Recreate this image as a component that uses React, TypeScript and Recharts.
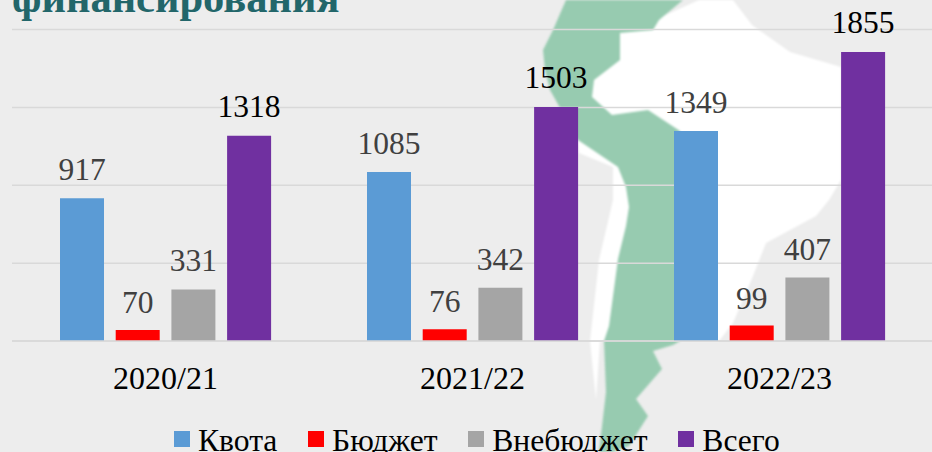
import { BarChart, Bar, XAxis, YAxis, CartesianGrid, Legend, LabelList } from "recharts";

const years = ["2020/21", "2021/22", "2022/23"];
const quota = [917, 1085, 1349];
const budget = [70, 76, 99];
const offBudget = [331, 342, 407];
const total = [1318, 1503, 1855];
const yTicks = [0, 500, 1000, 1500, 2000];

const data = years.map((year, i) => ({
  year,
  "Квота": quota[i],
  "Бюджет": budget[i],
  "Внебюджет": offBudget[i],
  "Всего": total[i],
}));

const FONT = "'Liberation Serif', serif";

// background map, sketched by hand
const whiteLand =
  "M619,33 L650,22 L699,0 L733,0 L752,25 L790,52 L841,67 L841,180 L829,200 L816,216 L766,243 L753,276 L733,323 L719,341 L600,341 L596,400 L590,341 L599,260 L613,200 L613,167 L579,153 L575,110 Z";
const greenLand =
  "M566,0 L683,0 L659,20 L653,30 L620,33 L620,60 L594,80 L592,97 L612,115 L648,110 L680,131 L680,341 L673,345 L653,351 L662,369 L636,399 L648,416 L629,446 L612,452 L599,452 L606,392 L604,341 L609,326 L618,259 L626,226 L629,207 L626,187 L618,167 L578,140 L550,90 L545,70 L543,50 L553,30 Z";

function renderLegend(props: any) {
  return (
    <div style={{ display: "flex", fontFamily: FONT, fontSize: 31.6, color: "#000", lineHeight: "34px" }}>
      {props.payload.map((item: any) => (
        <div key={item.value} style={{ display: "flex", alignItems: "center", marginRight: 30.7 }}>
          <span style={{ width: 16, height: 16, background: item.color, marginRight: 8, marginTop: -4 }} />
          <span>{item.value}</span>
        </div>
      ))}
    </div>
  );
}

const labelStyle = { fontFamily: FONT, fontSize: 31.5 };

export default function App() {
  return (
    <div style={{ position: "fixed", left: 0, top: 0, width: 932, height: 452, overflow: "hidden", background: "#ededed" }}>
      <svg width={932} height={452} style={{ position: "absolute", left: 0, top: 0, filter: "blur(0.8px)" }}>
        <path d={whiteLand} fill="#ffffff" />
        <path d={greenLand} fill="#97cbb0" />
      </svg>
      <div
        style={{
          position: "absolute",
          left: 12,
          top: -27,
          fontFamily: FONT,
          fontWeight: "bold",
          fontSize: 42.5,
          color: "#22666a",
          whiteSpace: "nowrap",
        }}
      >
        финансирования
      </div>
      <div style={{ position: "absolute", left: 0, top: 0 }}>
        <BarChart
          width={933}
          height={452}
          data={data}
          barSize={44}
          barGap={11.7}
          margin={{ top: 29.5, right: 0, left: 12, bottom: 61 }}
        >
          <CartesianGrid vertical={false} stroke="#d9d9d9" strokeWidth={1.5} />
          <XAxis
            dataKey="year"
            height={50}
            tickLine={false}
            axisLine={{ stroke: "#d9d9d9", strokeWidth: 1.5 }}
            tickMargin={19}
            tick={{ fontFamily: FONT, fontSize: 32, fill: "#000" }}
          />
          <YAxis hide domain={[0, 2000]} ticks={yTicks} />
          <Legend
            layout="horizontal"
            align="center"
            verticalAlign="middle"
            itemSorter={null}
            content={renderLegend}
            wrapperStyle={{ left: 174, top: 424, width: 760 }}
          />
          <Bar dataKey="Квота" fill="#5b9bd5" isAnimationActive={false}>
            <LabelList dataKey="Квота" position="top" offset={18} fill="#404040" style={labelStyle} />
          </Bar>
          <Bar dataKey="Бюджет" fill="#ff0000" isAnimationActive={false}>
            <LabelList dataKey="Бюджет" position="top" offset={17} fill="#404040" style={labelStyle} />
          </Bar>
          <Bar dataKey="Внебюджет" fill="#a5a5a5" isAnimationActive={false}>
            <LabelList dataKey="Внебюджет" position="top" offset={18} fill="#404040" style={labelStyle} />
          </Bar>
          <Bar dataKey="Всего" fill="#7030a0" isAnimationActive={false}>
            <LabelList dataKey="Всего" position="top" offset={19} fill="#000000" style={labelStyle} />
          </Bar>
        </BarChart>
      </div>
    </div>
  );
}
